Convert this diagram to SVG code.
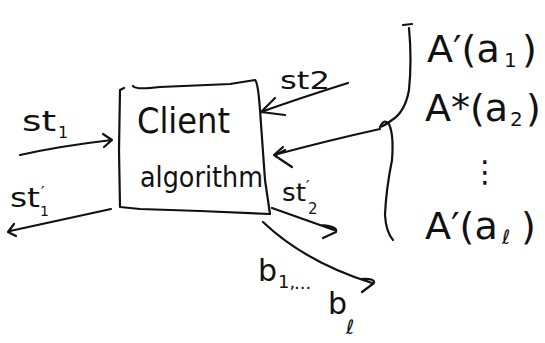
<svg xmlns="http://www.w3.org/2000/svg" width="545" height="343" viewBox="0 0 545 343">
  <style>
    .ink { fill: none; stroke: #111; stroke-width: 2.2; stroke-linecap: round; stroke-linejoin: round; }
    .lbl { font-family: "DejaVu Sans", "Liberation Sans", sans-serif; fill: #111; }
  </style>
  <rect width="545" height="343" fill="#fff"/>

  <!-- client box -->
  <g id="client">
    <path class="ink" d="M124,88 L120,90 L119,150 L120,207 L140,209 L200,211 L270,214"/>
    <path class="ink" d="M133,86 Q135,90 160,87 L230,84 L255,80 Q258,82 260,110 L265,180 L270,214"/>
    <text class="lbl" x="137" y="133" font-size="36" textLength="93" lengthAdjust="spacingAndGlyphs">Client</text>
    <text class="lbl" x="140" y="187" font-size="28" textLength="123" lengthAdjust="spacingAndGlyphs">algorithm</text>
  </g>

  <!-- answer list with brace -->
  <g id="answers">
    <path class="ink" d="M403,25 L412,24 M409,28 Q412,60 409,90 Q405,112 392,120 Q384,126 380,127 Q384,118 389,124 Q394,135 392,160 Q386,190 385,215 Q386,232 393,240"/>
    <text class="lbl" x="427" y="62" font-size="38">A′(a</text>
    <text class="lbl" x="504" y="67" font-size="20">1</text>
    <text class="lbl" x="522" y="62" font-size="38">)</text>
    <text class="lbl" x="425" y="121" font-size="38">A*(a</text>
    <text class="lbl" x="510" y="126" font-size="20">2</text>
    <text class="lbl" x="526" y="121" font-size="38">)</text>
    <text class="lbl" x="470" y="182" font-size="30">⋮</text>
    <text class="lbl" x="425" y="239" font-size="38">A′(a</text>
    <text class="lbl" x="502" y="244" font-size="20">ℓ</text>
    <text class="lbl" x="521" y="239" font-size="38">)</text>
  </g>

  <!-- connectors -->
  <g id="connectors">
    <!-- st1 in -->
    <path class="ink" d="M20,155 Q60,146 112,140 M103,134 L112,140 L104,147"/>
    <!-- st1' out -->
    <path class="ink" d="M111,209 Q60,220 10,231 M14,224 L8,232 L16,236"/>
    <!-- st2 in -->
    <path class="ink" d="M348,83 Q300,98 261,112 M275,98 L261,112 L285,115"/>
    <!-- from the answer brace -->
    <path class="ink" d="M380,129 Q330,140 274,155 M283,147 L274,155 L292,167 M285,150 L276,155"/>
    <!-- st2' out -->
    <path class="ink" d="M272,208 Q300,218 334,230 M320,225 Q338,226 336,232 L323,238"/>
    <!-- b1..bl out -->
    <path class="ink" d="M263,222 Q305,262 372,283 M361,279 Q375,278 374,283 L362,292"/>
  </g>

  <!-- labels on connectors -->
  <g id="labels">
    <text class="lbl" x="22" y="131" font-size="28" textLength="34" lengthAdjust="spacingAndGlyphs">st</text>
    <text class="lbl" x="58" y="138" font-size="16">1</text>
    <text class="lbl" x="10" y="207" font-size="26" textLength="30" lengthAdjust="spacingAndGlyphs">st</text>
    <text class="lbl" x="41" y="198" font-size="16">′</text>
    <text class="lbl" x="40" y="216" font-size="14">1</text>
    <text class="lbl" x="280" y="89" font-size="24" textLength="50" lengthAdjust="spacingAndGlyphs">st2</text>
    <text class="lbl" x="282" y="201" font-size="24" textLength="24" lengthAdjust="spacingAndGlyphs">st</text>
    <text class="lbl" x="306" y="192" font-size="16">′</text>
    <text class="lbl" x="308" y="214" font-size="15">2</text>
    <text class="lbl" x="258" y="281" font-size="30">b</text>
    <text class="lbl" x="278" y="288" font-size="18">1,</text>
    <text class="lbl" x="294" y="294" font-size="18">···</text>
    <text class="lbl" x="328" y="314" font-size="30">b</text>
    <text class="lbl" x="346" y="334" font-size="20">ℓ</text>
  </g>
</svg>
